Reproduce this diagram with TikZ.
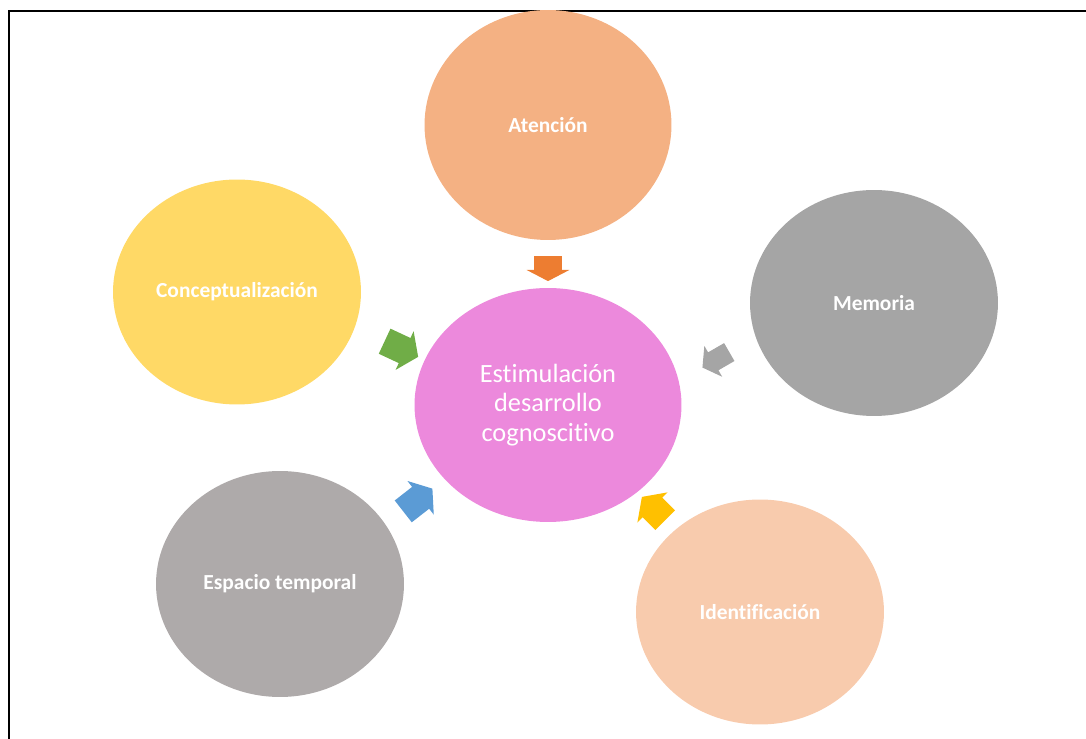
\documentclass[tikz,border=0pt]{standalone}
\usepackage{fontspec}
\setmainfont{Carlito}[Ligatures={NoCommon}]
\usetikzlibrary{shapes.geometric,shapes.arrows}

\definecolor{atencol}{HTML}{F4B183}
\definecolor{concol}{HTML}{FFD966}
\definecolor{memcol}{HTML}{A5A5A5}
\definecolor{estcol}{HTML}{EC89DC}
\definecolor{espcol}{HTML}{AEAAAA}
\definecolor{idecol}{HTML}{F8CBAD}

\tikzset{
    blob/.style={ellipse, inner sep=0pt, minimum width=4.96cm, minimum height=4.5cm,
                 text=white, font=\fontsize{12.2}{14}\selectfont\bfseries},
    blockarrow/.style={single arrow, inner sep=0pt, minimum height=0.74cm,
                 text height=0.27cm, text depth=0.27cm, text width=0pt,
                 single arrow head extend=0.15cm, single arrow tip angle=110}
}

\begin{document}
\begin{tikzpicture}[x=0.02cm, y=-0.02cm]
        \useasboundingbox (0,0) rectangle (1086,739);
        \draw [line width=1.2pt] (9,739) -- (9,11) -- (1086,11);

        \node (estim) [blob, fill=estcol, minimum width=5.34cm, minimum height=4.68cm,
                       font=\fontsize{15}{17}\selectfont, align=center] at (548,405)
              {Estimulación\\desarrollo\\cognoscitivo};
        \node (aten) [blob, fill=atencol, minimum width=4.94cm, minimum height=4.6cm] at (548,125) {Atención};
        \node (concep) [blob, fill=concol] at (237,292) {Conceptualización};
        \node (memo) [blob, fill=memcol, minimum height=4.52cm] at (874,303) {Memoria};
        \node (espac) [blob, fill=espcol, minimum height=4.52cm] at (280,584) {Espacio temporal};
        \node (ident) [blob, fill=idecol] at (760,612) {Identificación};

        \node (arrAten) [blockarrow, fill={rgb,255:red,237;green,125;blue,49}, rotate=-90,
                         minimum height=0.5cm, single arrow tip angle=125] at (548,265) {};
        \node (arrConcep) [blockarrow, fill={rgb,255:red,112;green,173;blue,71}, rotate=-25] at (397,347) {};
        \node (arrMemo) [blockarrow, fill=memcol, rotate=-150, minimum height=0.62cm,
                         text height=0.2cm, text depth=0.2cm] at (719,358) {};
        \node (arrEspac) [blockarrow, fill={rgb,255:red,91;green,155;blue,213}, rotate=38] at (414,503) {};
        \node (arrIdent) [blockarrow, fill={rgb,255:red,255;green,192;blue,0}, rotate=135,
                          minimum height=0.66cm] at (657,512) {};
    \end{tikzpicture}
\end{document}
